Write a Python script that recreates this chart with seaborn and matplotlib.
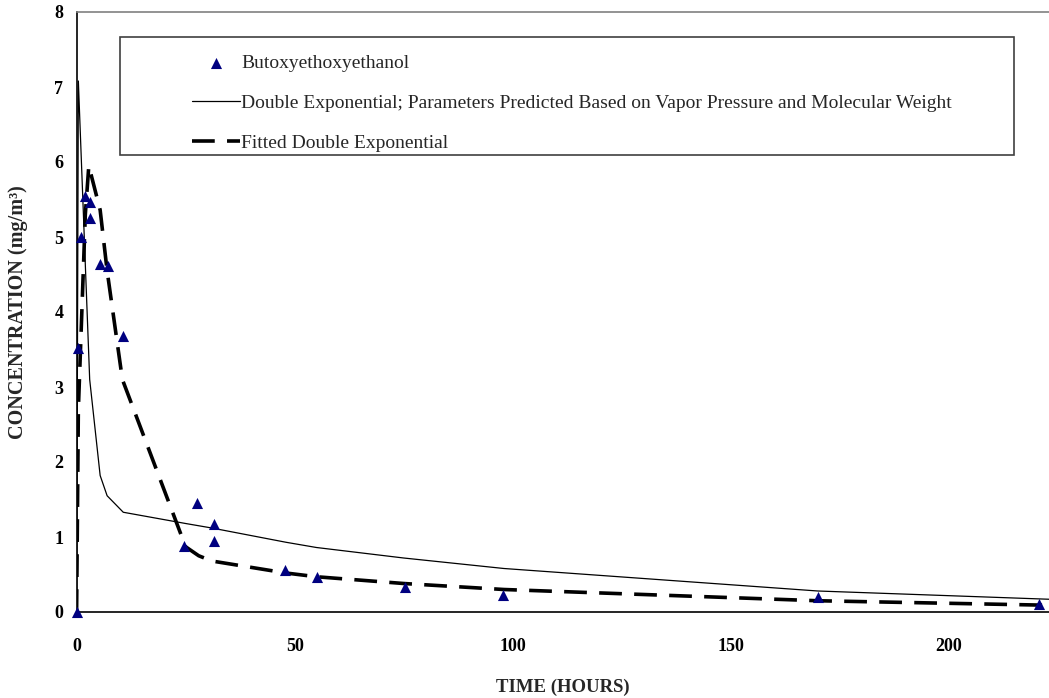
import matplotlib
matplotlib.use("Agg")
import matplotlib.pyplot as plt
import numpy as np
import pandas as pd
import seaborn as sns
from matplotlib.patches import Rectangle

# ---- data ----
obs_time = [0, 0.4, 1.0, 2.0, 3.0, 3.1, 5.4, 7.1, 10.7, 24.7, 27.7, 31.4, 31.4,
            47.8, 55.1, 75.2, 97.7, 170.1, 220.8]
obs_conc = [0, 3.52, 5.0, 5.55, 5.47, 5.25, 4.64, 4.61, 3.68, 0.88, 1.45, 1.17, 0.95,
            0.56, 0.47, 0.34, 0.23, 0.20, 0.11]

pred_time = [0, 0.4, 3.0, 5.4, 7.0, 10.7, 25, 28, 31, 48, 55, 75, 98, 170, 223]
pred_conc = [0, 7.08, 3.1, 1.82, 1.55, 1.33, 1.18, 1.15, 1.12, 0.93, 0.86, 0.72, 0.58, 0.28, 0.17]

fit_time = [0, 0.4, 2.0, 2.8, 5.4, 7.0, 10.5, 25, 28, 31, 48, 55, 75, 98, 170, 223]
fit_conc = [0, 2.7, 5.3, 5.95, 5.36, 4.55, 3.1, 0.87, 0.75, 0.68, 0.52, 0.47, 0.38, 0.30, 0.15, 0.09]

x_ticks = [0, 50, 100, 150, 200]
y_ticks = [0, 1, 2, 3, 4, 5, 6, 7, 8]

labels = ["Butoxyethoxyethanol",
          "Double Exponential; Parameters Predicted Based on Vapor Pressure and Molecular Weight",
          "Fitted Double Exponential"]

sns.set_theme(style="white")
plt.rcParams["font.family"] = ["Liberation Serif", "DejaVu Serif"]

W, H = 1049, 698
fig = plt.figure(figsize=(W / 100, H / 100), dpi=100)
ax = fig.add_axes([76.6 / W, (H - 612) / H, 1 - 76.6 / W, 600 / H])

obs = pd.DataFrame({"t": obs_time, "c": obs_conc})
pred = pd.DataFrame({"t": pred_time, "c": pred_conc})
fit = pd.DataFrame({"t": fit_time, "c": fit_conc})

sns.lineplot(data=pred, x="t", y="c", ax=ax, sort=False, estimator=None,
             color="black", lw=0.9, label=labels[1], zorder=2)
sns.lineplot(data=fit, x="t", y="c", ax=ax, sort=False, estimator=None,
             color="black", lw=2.6, label=labels[2], zorder=2,
             dashes=False)
ax.lines[-1].set_dashes((6.3, 3.4))
sns.scatterplot(data=obs, x="t", y="c", ax=ax, marker="^", s=64,
                color="#000080", edgecolor="#000080", linewidth=0,
                label=labels[0], zorder=4, clip_on=False)

ax.set_xlim(0, 223)
ax.set_ylim(0, 8)
ax.set_xticks(x_ticks)
ax.set_yticks(y_ticks)
ax.set_xticklabels([str(v) for v in x_ticks])
ax.set_yticklabels([str(v) for v in y_ticks])

for lab in ax.get_xticklabels() + ax.get_yticklabels():
    lab.set_fontweight("bold")
    lab.set_fontsize(13)
ax.tick_params(axis="both", direction="inout", length=7.2, width=0.8,
               color="#404040", labelcolor="black")
ax.tick_params(axis="x", pad=15)
ax.tick_params(axis="y", pad=6)

ax.spines["left"].set_color("black")
ax.spines["bottom"].set_color("black")
ax.spines["left"].set_linewidth(1.2)
ax.spines["bottom"].set_linewidth(1.2)
ax.spines["top"].set_color("#808080")
ax.spines["top"].set_linewidth(1.2)
ax.spines["right"].set_visible(False)
ax.grid(False)

ax.set_xlabel("TIME (HOURS)", fontsize=13.5, fontweight="bold", va="center")
ax.xaxis.set_label_coords(0.5, -(687 - 612) / 600)
ax.set_ylabel("CONCENTRATION (mg/m³)", fontsize=14.5, fontweight="bold", va="center")
ax.yaxis.set_label_coords((18 - 76.6) / (W - 76.6), 0.5)

# legend
handles, labs = ax.get_legend_handles_labels()
order = [labs.index(l) for l in labels]
leg = ax.legend([handles[i] for i in order], [labs[i] for i in order],
                loc="upper left", bbox_to_anchor=(192 / W, 1 - 54 / H),
                bbox_transform=fig.transFigure, frameon=False,
                borderpad=0, borderaxespad=0, handlelength=2.47,
                handletextpad=0.05, labelspacing=1.16,
                prop={"family": "Liberation Serif", "size": 14})
fig.patches.append(Rectangle((119.5 / W, 1 - 155 / H), (1014 - 119.5) / W,
                             (155 - 36.7) / H, transform=fig.transFigure,
                             fill=False, edgecolor="#404040", linewidth=1.2))

fig.savefig("out.png", dpi=100)
